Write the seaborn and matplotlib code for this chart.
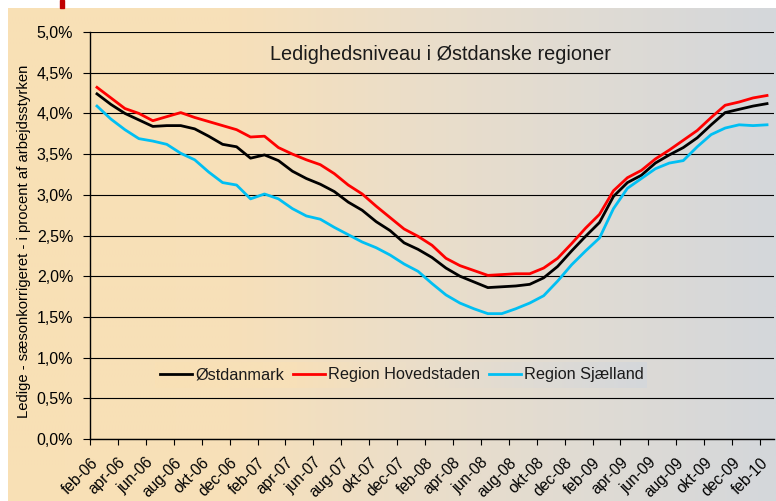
import numpy as np
import pandas as pd
import seaborn as sns
import matplotlib.pyplot as plt
from matplotlib.colors import LinearSegmentedColormap
from matplotlib.patches import Rectangle
from matplotlib.ticker import FuncFormatter

# maanedlige tal, feb-06 .. feb-10
mdr_navne = ["jan", "feb", "mar", "apr", "maj", "jun", "jul", "aug", "sep", "okt", "nov", "dec"]
maaneder = [f"{mdr_navne[(1 + i) % 12]}-{6 + (1 + i) // 12:02d}" for i in range(49)]

oestdanmark = [4.24, 4.11, 4.00, 3.92, 3.84, 3.85, 3.85, 3.81, 3.72, 3.62, 3.59, 3.45,
               3.49, 3.42, 3.29, 3.20, 3.13, 3.04, 2.91, 2.81, 2.67, 2.56, 2.41, 2.33,
               2.23, 2.10, 2.00, 1.93, 1.86, 1.87, 1.88, 1.90, 1.98, 2.12, 2.31, 2.49,
               2.66, 2.98, 3.15, 3.24, 3.39, 3.49, 3.58, 3.70, 3.86, 4.01, 4.05, 4.09,
               4.12]
hovedstaden = [4.32, 4.19, 4.06, 4.00, 3.91, 3.96, 4.01, 3.95, 3.90, 3.85, 3.80, 3.71,
               3.72, 3.58, 3.50, 3.43, 3.37, 3.26, 3.12, 3.01, 2.86, 2.72, 2.58, 2.49,
               2.38, 2.22, 2.13, 2.07, 2.01, 2.02, 2.03, 2.03, 2.10, 2.22, 2.40, 2.59,
               2.76, 3.05, 3.21, 3.30, 3.44, 3.55, 3.67, 3.79, 3.95, 4.10, 4.14, 4.19,
               4.22]
sjaelland = [4.09, 3.93, 3.80, 3.69, 3.66, 3.62, 3.51, 3.43, 3.28, 3.15, 3.12, 2.95,
             3.01, 2.95, 2.83, 2.74, 2.70, 2.60, 2.51, 2.42, 2.35, 2.26, 2.15, 2.06,
             1.91, 1.77, 1.67, 1.60, 1.54, 1.54, 1.60, 1.67, 1.76, 1.94, 2.14, 2.31,
             2.47, 2.83, 3.08, 3.20, 3.32, 3.39, 3.42, 3.59, 3.74, 3.82, 3.86, 3.85,
             3.86]

serier = ["Østdanmark", "Region Hovedstaden", "Region Sjælland"]
farver = ["#000000", "#ff0000", "#00bff3"]

df = pd.DataFrame({"maaned": maaneder, serier[0]: oestdanmark,
                   serier[1]: hovedstaden, serier[2]: sjaelland})
df["pos"] = range(len(df))
lang = df.melt(id_vars=["maaned", "pos"], var_name="serie", value_name="ledighed")

plt.rcParams["font.family"] = ["Liberation Sans", "DejaVu Sans"]
plt.rcParams["text.color"] = "#1a1a1a"

W, H = 776, 501
fig = plt.figure(figsize=(W / 100, H / 100), dpi=100)

# baggrund med gradient fra orange til graa
bg_cmap = LinearSegmentedColormap.from_list("bg", [
    (0.0, (249/255, 224/255, 181/255)),
    (0.29, (247/255, 224/255, 185/255)),
    (0.51, (236/255, 222/255, 200/255)),
    (0.77, (223/255, 219/255, 212/255)),
    (1.0, (212/255, 215/255, 219/255)),
])
grad = np.linspace(0, 1, 512).reshape(1, -1)

bg = fig.add_axes([8 / W, 0, 1 - 8 / W, 1 - 8 / H])
bg.imshow(grad, cmap=bg_cmap, aspect="auto")
bg.axis("off")
fig.patches.append(Rectangle((60 / W, 1 - 8 / H), 4 / W, 8 / H,
                             transform=fig.transFigure, color="#c00000"))

# legendens egen gradient
lb = fig.add_axes([155 / W, 1 - 388 / H, (647 - 155) / W, 26 / H])
lb.imshow(grad, cmap=bg_cmap, aspect="auto")
lb.axis("off")

ax = fig.add_axes([90 / W, 1 - 439 / H, 684 / W, 407 / H])
ax.patch.set_alpha(0)

sns.lineplot(data=lang, x="pos", y="ledighed", hue="serie", hue_order=serier,
             palette=dict(zip(serier, farver)), linewidth=2, ax=ax)

ax.set_xlim(-0.5, 48.5)
ax.set_ylim(0, 5)
ax.set_yticks(np.arange(0, 5.01, 0.5))
ax.yaxis.set_major_formatter(FuncFormatter(lambda v, p: f"{v:.1f}%".replace(".", ",")))
ax.yaxis.grid(True, color="black", linewidth=0.8)
ax.set_axisbelow(True)

ax.set_xticks(np.arange(-0.5, 48, 2), maaneder[::2], rotation=45, ha="right",
              va="top", rotation_mode="anchor")
ax.tick_params(axis="x", length=4, width=0.8, pad=7.5, labelsize=11.2)
ax.tick_params(axis="y", length=5, width=0.8, pad=7, labelsize=11.5)

for s in ["top", "right"]:
    ax.spines[s].set_visible(False)
for s in ["left", "bottom"]:
    ax.spines[s].set_color("black")
    ax.spines[s].set_linewidth(1)

ax.set_xlabel("")
ax.set_ylabel("Ledige - sæsonkorrigeret - i procent af arbejdsstyrken", fontsize=10.7)
ax.yaxis.set_label_coords(-0.086, 0.485)

ax.text(0.512, 0.931, "Ledighedsniveau i Østdanske regioner", transform=ax.transAxes,
        ha="center", va="baseline", fontsize=14.3)

handles, labels = ax.get_legend_handles_labels()
ax.legend(handles, labels, loc="center", bbox_to_anchor=(402 / W, 1 - 375 / H),
          bbox_transform=fig.transFigure, ncol=3, frameon=False, fontsize=11.7,
          handlelength=2.0, handletextpad=0.2, columnspacing=0.5)

fig.savefig("out.png", dpi=100)
